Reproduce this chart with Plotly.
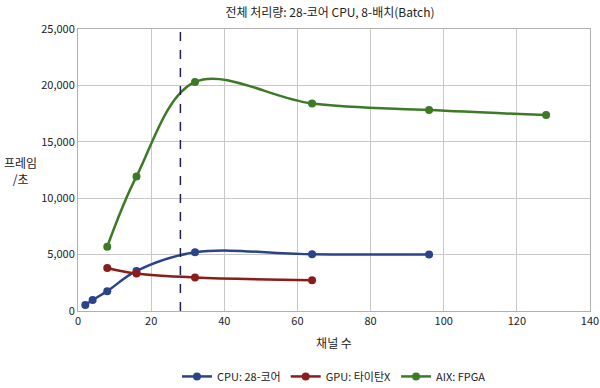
import plotly.graph_objects as go

cpu_x = [2, 4, 8, 16, 32, 64, 96]
cpu_y = [530, 970, 1760, 3550, 5200, 5030, 5000]
gpu_x = [8, 16, 32, 64]
gpu_y = [3820, 3320, 2970, 2730]
fpga_x = [8, 16, 32, 64, 96, 128]
fpga_y = [5700, 11930, 20310, 18400, 17810, 17370]
cores_line = 28

y_ticks = [0, 5000, 10000, 15000, 20000, 25000]
y_labels = ["0", "5,000", "10,000", "15,000", "20,000", "25,000"]
x_ticks = [0, 20, 40, 60, 80, 100, 120, 140]

FONT = "Noto Sans CJK KR"
fig = go.Figure()
series = [
    ("CPU: 28-코어", cpu_x, cpu_y, "#2b4389"),
    ("GPU: 타이탄X", gpu_x, gpu_y, "#8c1c1c"),
    ("AIX: FPGA", fpga_x, fpga_y, "#3d7a28"),
]
for name, xs, ys, c in series:
    fig.add_trace(go.Scatter(
        x=xs, y=ys, name=name, mode="lines+markers",
        line=dict(color=c, width=2.5, shape="spline", smoothing=1.0),
        marker=dict(color=c, size=8),
    ))

fig.add_shape(type="line", x0=cores_line, x1=cores_line, y0=0, y1=1, yref="paper",
              line=dict(color="#1f1f4f", width=1.5, dash="dash"))

fig.update_layout(
    width=600, height=388,
    margin=dict(l=78, r=10, t=29, b=77, autoexpand=False),
    paper_bgcolor="white", plot_bgcolor="white",
    font=dict(family=FONT, size=11, color="#222"),
    title=dict(text="전체 처리량: 28-코어 CPU, 8-배치(Batch)", x=0.55, xanchor="center",
               y=0.968, yanchor="middle", font=dict(size=12)),
    showlegend=True,
    legend=dict(orientation="h", x=0.5, xanchor="center", y=-0.232, yanchor="middle",
                font=dict(size=11)),
    xaxis=dict(range=[0, 140], tickvals=x_ticks, showgrid=True, gridcolor="#c8c8c8",
               showline=True, linecolor="#b0b0b0", mirror=True, zeroline=False,
               automargin=False, ticks="",
               title=dict(text="채널 수", font=dict(size=12), standoff=12)),
    yaxis=dict(range=[0, 25000], tickvals=y_ticks, ticktext=y_labels, showgrid=True,
               gridcolor="#c8c8c8", showline=True, linecolor="#b0b0b0", mirror=True,
               zeroline=False, ticks="", automargin=False),
)
fig.add_annotation(text="프레임<br>/초", x=-0.148, y=0.5, xref="paper", yref="paper",
                   showarrow=False, font=dict(size=12), xanchor="left", align="center")

fig.write_html("out.html", config={"displayModeBar": False},
               post_script="document.body.style.margin='0';document.body.style.overflow='hidden';")
